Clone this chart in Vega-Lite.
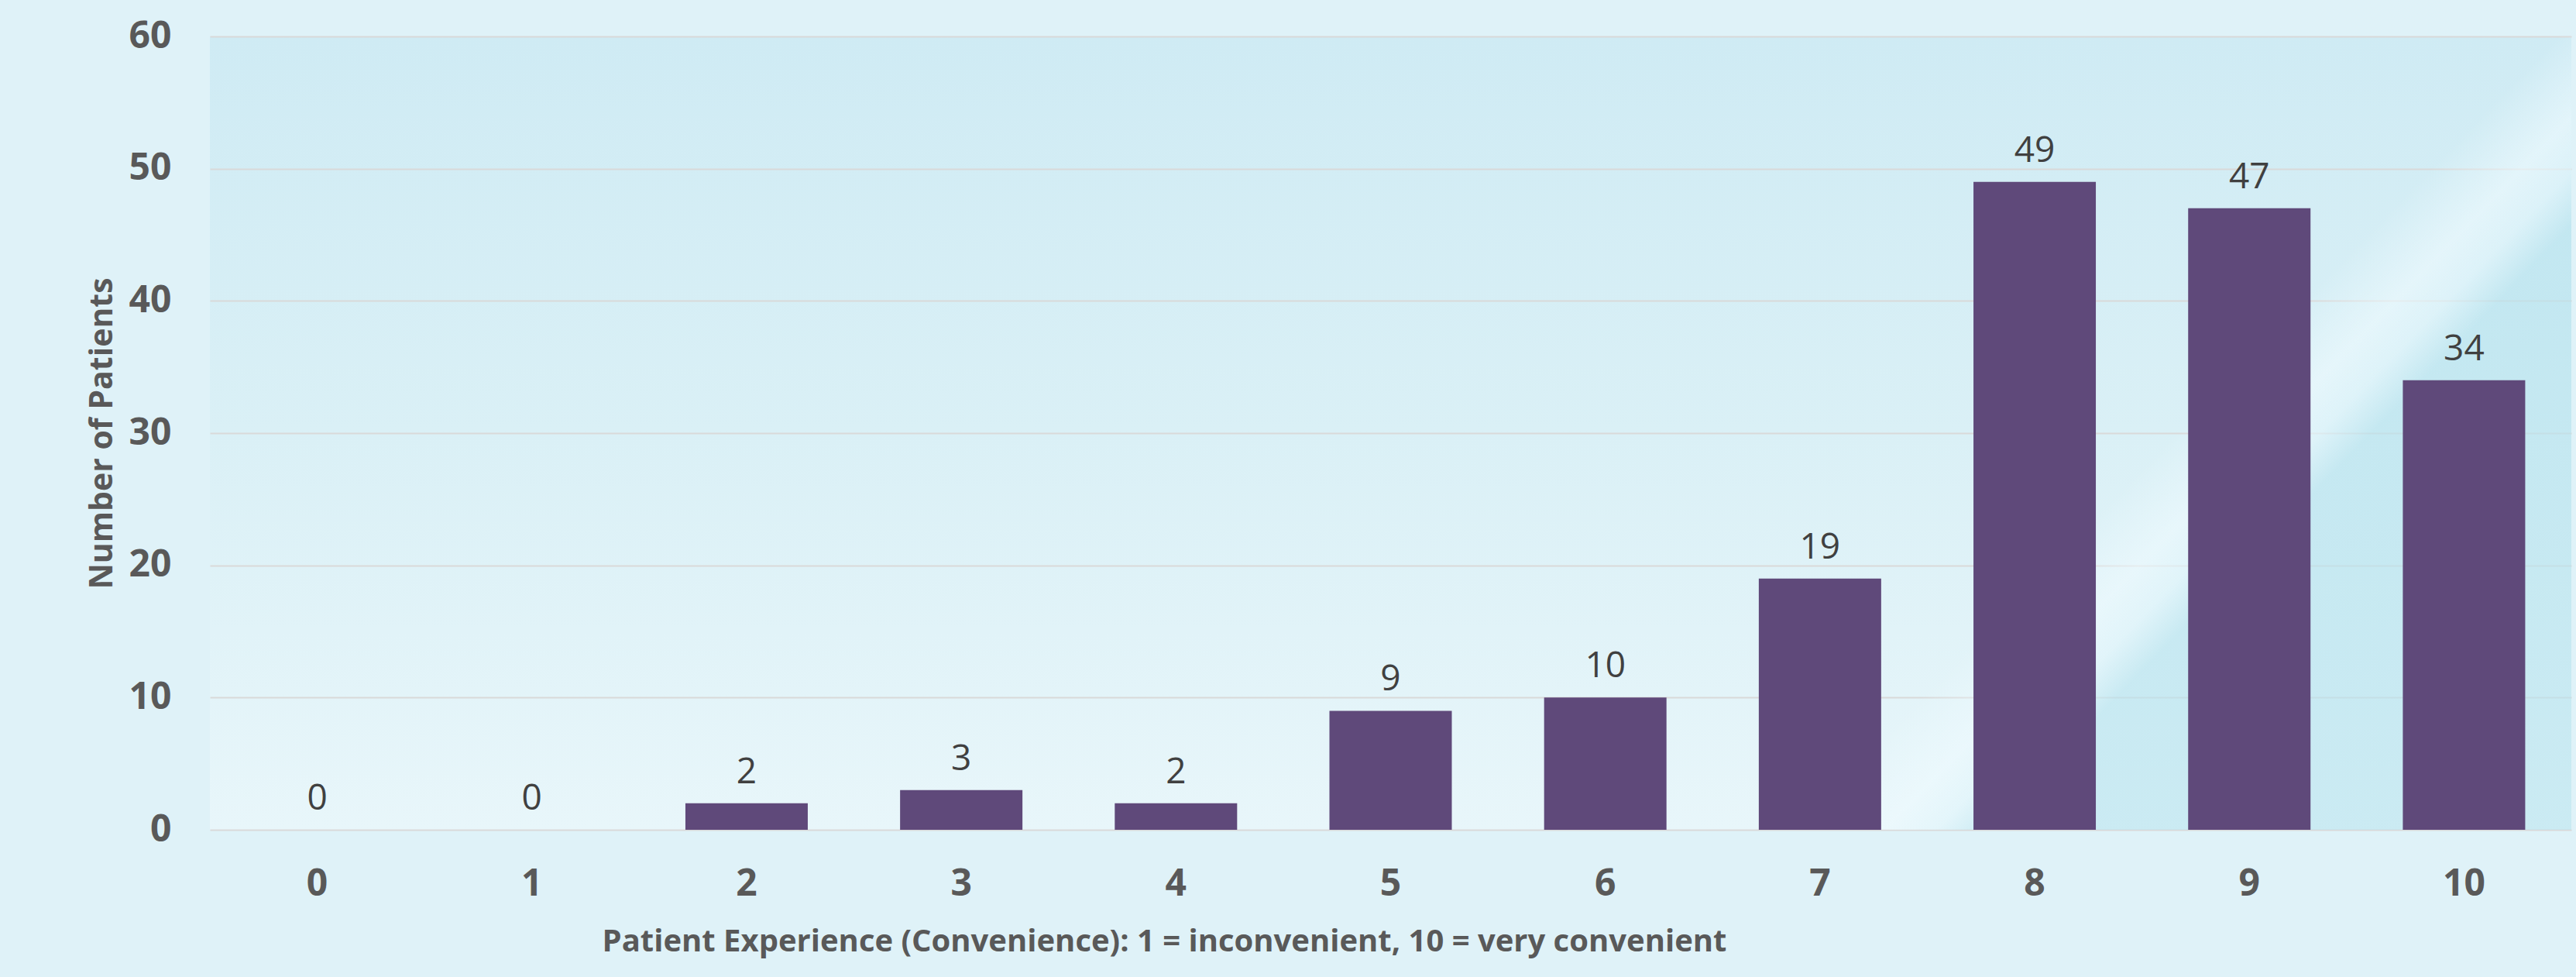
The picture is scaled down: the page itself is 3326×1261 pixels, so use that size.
{
  "$schema": "https://vega.github.io/schema/vega-lite/v6.json",
  "autosize": {"type": "none"},
  "width": 3049,
  "height": 1024,
  "padding": {"left": 271, "top": 47, "right": 6, "bottom": 190},
  "background": "#DFF2F8",
  "config": {
    "view": {
      "stroke": null,
      "fill": {
        "gradient": "linear",
        "x1": 0, "y1": 0, "x2": 0, "y2": 1,
        "stops": [
          {"offset": 0, "color": "#CFEBF4"},
          {"offset": 0.5, "color": "#DAF0F6"},
          {"offset": 1, "color": "#E8F6FA"}
        ]
      }
    },
    "font": "Liberation Sans Narrow, Open Sans, sans-serif"
  },
  "data": {
    "values": [
      {"score": "0", "patients": 0},
      {"score": "1", "patients": 0},
      {"score": "2", "patients": 2},
      {"score": "3", "patients": 3},
      {"score": "4", "patients": 2},
      {"score": "5", "patients": 9},
      {"score": "6", "patients": 10},
      {"score": "7", "patients": 19},
      {"score": "8", "patients": 49},
      {"score": "9", "patients": 47},
      {"score": "10", "patients": 34}
    ]
  },
  "layer": [
    {
      "data": {"values": [{"panel": "streak"}]},
      "mark": {
        "type": "rect",
        "fill": {
          "gradient": "linear",
          "x1": 0, "y1": 0, "x2": 1, "y2": 0.324,
          "stops": [
            {"offset": 0, "color": "rgba(238,250,254,0)"},
            {"offset": 0.9, "color": "rgba(238,250,254,0)"},
            {"offset": 0.935, "color": "rgba(238,250,254,0.6)"},
            {"offset": 0.955, "color": "rgba(225,245,251,0.6)"},
            {"offset": 0.975, "color": "rgba(183,227,238,0.6)"},
            {"offset": 1, "color": "rgba(183,227,238,0.6)"}
          ]
        }
      },
      "encoding": {"y": {"datum": 60}, "y2": {"datum": 0}}
    },
    {
      "mark": {"type": "bar", "color": "#5F497A"},
      "encoding": {
        "x": {
          "field": "score",
          "type": "ordinal",
          "sort": null,
          "scale": {"paddingInner": 0.43, "paddingOuter": 0.215},
          "axis": {
            "title": "Patient Experience (Convenience): 1 = inconvenient, 10 = very convenient",
            "titleFontSize": 40,
            "titleFontWeight": "bold",
            "titleColor": "#595959",
            "titleX": 1232,
            "titleY": 144,
            "titleBaseline": "middle",
            "labelAngle": 0,
            "labelFontSize": 48,
            "labelFontWeight": "bold",
            "labelColor": "#595959",
            "labelBaseline": "middle",
            "labelPadding": 70,
            "ticks": false,
            "tickSize": 0,
            "domain": false,
            "grid": false
          }
        },
        "y": {
          "field": "patients",
          "type": "quantitative",
          "scale": {"domain": [0, 60], "nice": false},
          "axis": {
            "title": "Number of Patients",
            "titleFontSize": 41,
            "titleFontWeight": "bold",
            "titleColor": "#595959",
            "titleX": -139,
            "titleY": 512,
            "titleAngle": -90,
            "titleBaseline": "middle",
            "values": [0, 10, 20, 30, 40, 50, 60],
            "labelFontSize": 48,
            "labelFontWeight": "bold",
            "labelColor": "#595959",
            "labelPadding": 50,
            "ticks": false,
            "tickSize": 0,
            "domain": false,
            "grid": true,
            "gridColor": "#D9D9D9",
            "gridWidth": 2
          }
        }
      }
    },
    {
      "mark": {
        "type": "text",
        "baseline": "alphabetic",
        "dy": -26,
        "fontSize": 46,
        "color": "#404040"
      },
      "encoding": {
        "x": {"field": "score", "type": "ordinal", "sort": null},
        "y": {"field": "patients", "type": "quantitative"},
        "text": {"field": "patients", "type": "quantitative"}
      }
    }
  ]
}
